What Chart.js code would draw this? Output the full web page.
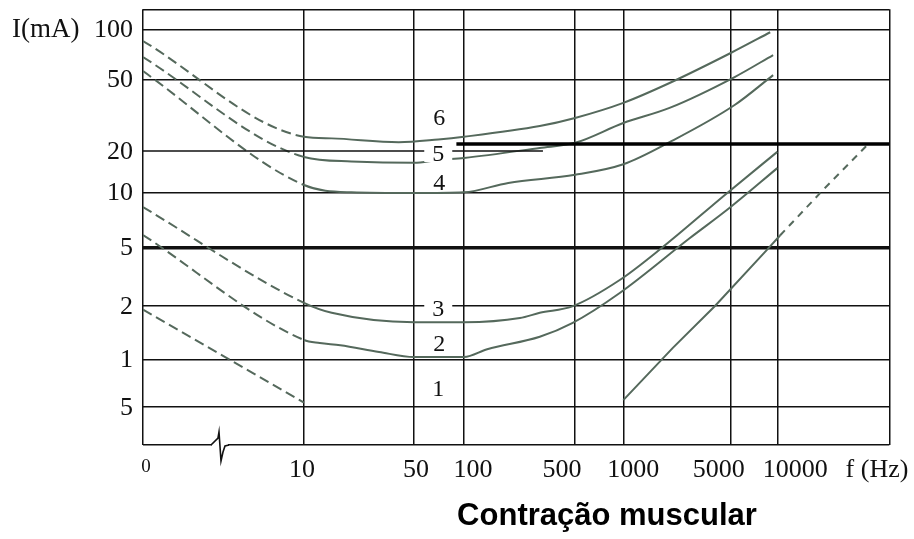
<!DOCTYPE html>
<html>
<head>
<meta charset="utf-8">
<script src="https://cdn.jsdelivr.net/npm/chart.js"></script>
<style>
  html, body { margin: 0; padding: 0; background: #fff; }
  #wrap { position: relative; width: 914px; height: 539px; }
</style>
</head>
<body>
<div id="wrap"><canvas id="chart"></canvas></div>
<script>
// tick values and labels
const X_TICKS = [0, 10, 50, 100, 500, 1000, 5000, 10000];
const X_TICK_LABELS = ['0', '10', '50', '100', '500', '1000', '5000', '10000'];
const Y_TICKS = [100, 50, 20, 10, 5, 2, 1, 0.5];
const Y_TICK_LABELS = ['100', '50', '20', '10', '5', '2', '1', '5'];

// curves: frequency (Hz) / current (mA)
const freq1a = [0, 10];
const curr1a = [1.91, 0.53];
const freq1b = [1000, 2100, 3950, 8570, 10400, 19300, 36300];
const curr1b = [0.55, 1.16, 2.0, 4.8, 5.8, 10.4, 21.5];
const freq2 = [0, 10, 12.6, 17, 30, 50, 100, 140, 300, 480, 950, 2700, 4900, 10000];
const curr2 = [5.84, 1.285, 1.236, 1.2, 1.1, 1.03, 1.03, 1.14, 1.34, 1.6, 2.45, 5.6, 8.2, 15];
const freq3 = [0, 10, 15, 50, 100, 225, 300, 480, 950, 1800, 4600, 10000];
const curr3 = [8.3, 2.1, 1.83, 1.62, 1.62, 1.71, 1.83, 1.99, 3.0, 5.0, 9.7, 19.7];
const freq4 = [0, 10, 20, 50, 100, 190, 500, 1000, 2000, 5300, 9400];
const curr4 = [56, 11.3, 10, 9.9, 10, 11.7, 13.4, 16, 22.4, 36, 53];
const freq5 = [0, 10, 20, 50, 70, 100, 300, 500, 1000, 2000, 5300, 9400];
const curr5 = [68, 18.1, 16.8, 16.4, 17.2, 17.8, 20.8, 22.2, 28.6, 34.7, 51.6, 70];
const freq6 = [0, 10, 15, 40, 70, 100, 300, 500, 1000, 2000, 5000, 9000];
const curr6 = [85, 24, 23.5, 22.4, 23.2, 24, 27.5, 30.5, 37, 47.7, 72, 96];

// the two black reference lines near 20 mA
const freqRefThin = [0, 314];
const currRefThin = [20, 20];
const freqRefThick = [90, 50000];
const currRefThick = [21.9, 21.9];

// curve numbers, anchored at (Hz, mA)
const CURVE_NAMES = ['1', '2', '3', '4', '5', '6'];
const NAME_FREQ = [70, 71, 70, 71, 70, 71];
const NAME_CURR = [0.65, 1.22, 1.92, 11.7, 19, 30.5];

// the printed grid is not an even log grid: knot -> fraction of plot
const X_KNOTS = [0, 10, 50, 100, 500, 1000, 5000, 10000, 50000];
const X_POS = [0, 0.2157, 0.3631, 0.4301, 0.5789, 0.6436, 0.7875, 0.8499, 1];
const Y_KNOTS = [0.5, 1, 2, 5, 10, 20, 50, 100];
const Y_POS = [0.0879, 0.1967, 0.3190, 0.4538, 0.5800, 0.6748, 0.8393, 0.9541];

function logInterp(v, knots, pos) {
  let k = 0;
  while (k < knots.length - 2 && v > knots[k + 1]) k++;
  const a = Math.log10(knots[k]), b = Math.log10(knots[k + 1]);
  return pos[k] + (Math.log10(v) - a) / (b - a) * (pos[k + 1] - pos[k]);
}
function warpX(f) {
  if (f <= 10) return f / 10 * X_POS[1];   // broken axis between 0 and 10
  return logInterp(f, X_KNOTS.slice(1), X_POS.slice(1));
}
function warpY(v) { return logInterp(v, Y_KNOTS, Y_POS); }

function pts(fs, is) {
  return fs.map((f, n) => ({ x: warpX(f), y: warpY(is[n]) }));
}

const CURVE_COLOR = '#55695c';
const X10 = warpX(10);

function curve(fs, is, smooth) {
  return {
    data: pts(fs, is),
    borderColor: CURVE_COLOR,
    borderWidth: 2,
    pointRadius: 0,
    fill: false,
    cubicInterpolationMode: smooth ? 'monotone' : 'default',
    tension: 0,
    segment: {
      borderDash: ctx => ctx.p0.parsed.x < X10 - 1e-6 ? [10, 5] : undefined
    }
  };
}

const c1b = curve(freq1b, curr1b, false);
c1b.segment = { borderDash: ctx => ctx.p0.parsed.x >= warpX(10000) - 1e-6 ? [7, 6] : undefined };

const datasets = [
  { data: pts(freqRefThin, currRefThin), borderColor: '#111', borderWidth: 1.5, pointRadius: 0 },
  { data: pts(freqRefThick, currRefThick), borderColor: '#000', borderWidth: 3.5, pointRadius: 0 },
  curve(freq1a, curr1a, false),
  c1b,
  curve(freq2, curr2, true),
  curve(freq3, curr3, true),
  curve(freq4, curr4, true),
  curve(freq5, curr5, true),
  curve(freq6, curr6, true)
];

const SERIF = '"Liberation Serif", "Times New Roman", serif';
const X_LABEL_DX = [3, -2, 2, 9, -13, 10, -12, 18];

const textPlugin = {
  id: 'textPlugin',
  afterDatasetsDraw(chart) {
    const { ctx, chartArea: area } = chart;
    const xs = chart.scales.x, ys = chart.scales.y;
    ctx.save();

    // curve numbers on white patches
    ctx.font = '24px ' + SERIF;
    ctx.textAlign = 'center';
    ctx.textBaseline = 'middle';
    CURVE_NAMES.forEach((name, n) => {
      const px = xs.getPixelForValue(warpX(NAME_FREQ[n]));
      const py = ys.getPixelForValue(warpY(NAME_CURR[n]));
      const w = (name === '5' || name === '3') ? 28 : 18;
      ctx.fillStyle = '#fff';
      ctx.fillRect(px - w / 2, py - 8, w, 16);
      ctx.fillStyle = '#111';
      ctx.fillText(name, px, py + 1);
    });

    // y labels
    ctx.font = '26px ' + SERIF;
    ctx.textAlign = 'right';
    Y_TICKS.forEach((v, n) => {
      ctx.fillText(Y_TICK_LABELS[n], area.left - 10, ys.getPixelForValue(warpY(v)) + 1);
    });
    ctx.textAlign = 'left';
    ctx.font = '27px ' + SERIF;
    ctx.fillText('I(mA)', 12, ys.getPixelForValue(warpY(100)) + 1);

    // x labels
    ctx.textAlign = 'center';
    ctx.textBaseline = 'alphabetic';
    X_TICKS.forEach((v, n) => {
      ctx.font = (v === 0 ? '19px ' : '26px ') + SERIF;
      const base = v === 0 ? area.bottom + 27 : area.bottom + 32;
      ctx.fillText(X_TICK_LABELS[n], xs.getPixelForValue(warpX(v)) + X_LABEL_DX[n], base);
    });
    ctx.font = '26px ' + SERIF;
    ctx.fillText('f (Hz)', 877, area.bottom + 32);

    // axis break on the bottom border
    const bx = area.left + 69, by = area.bottom;
    ctx.fillStyle = '#fff';
    ctx.fillRect(bx, by - 3, 16, 6);
    ctx.strokeStyle = '#111';
    ctx.lineWidth = 1.6;
    ctx.beginPath();
    ctx.moveTo(bx - 1, by);
    ctx.lineTo(bx + 6, by - 7);
    ctx.lineTo(bx + 7, by - 13);
    ctx.lineTo(bx + 9, by + 16);
    ctx.lineTo(bx + 11, by + 7);
    ctx.lineTo(bx + 13, by + 1);
    ctx.lineTo(bx + 17, by);
    ctx.stroke();

    // title
    ctx.fillStyle = '#000';
    ctx.font = 'bold 31px "Liberation Sans", Arial, sans-serif';
    ctx.fillText('Contração muscular', 607, 525);
    ctx.restore();
  }
};

const GRID = '#111';

new Chart(document.getElementById('chart'), {
  type: 'line',
  data: { datasets },
  options: {
    responsive: true,
    maintainAspectRatio: false,
    animation: false,
    parsing: false,
    layout: { padding: { left: 143, right: 24.7, top: 9.3, bottom: 94 } },
    plugins: { legend: { display: false }, tooltip: { enabled: false } },
    scales: {
      x: {
        type: 'linear', min: 0, max: 1,
        ticks: { display: false },
        border: { display: false },
        grid: { color: GRID, lineWidth: 1.5, drawTicks: false },
        afterBuildTicks: axis => { axis.ticks = X_KNOTS.map(f => ({ value: warpX(f) })); }
      },
      y: {
        type: 'linear', min: 0, max: 1,
        ticks: { display: false },
        border: { display: false },
        grid: {
          color: GRID,
          drawTicks: false,
          lineWidth: ctx => (ctx.tick && Math.abs(ctx.tick.value - warpY(5)) < 1e-6) ? 3.5 : 1.5
        },
        afterBuildTicks: axis => {
          const vals = [0].concat(Y_KNOTS.filter(v => v !== 20).map(warpY), [1]);
          axis.ticks = vals.map(value => ({ value }));
        }
      }
    }
  },
  plugins: [textPlugin]
});
</script>
</body>
</html>
